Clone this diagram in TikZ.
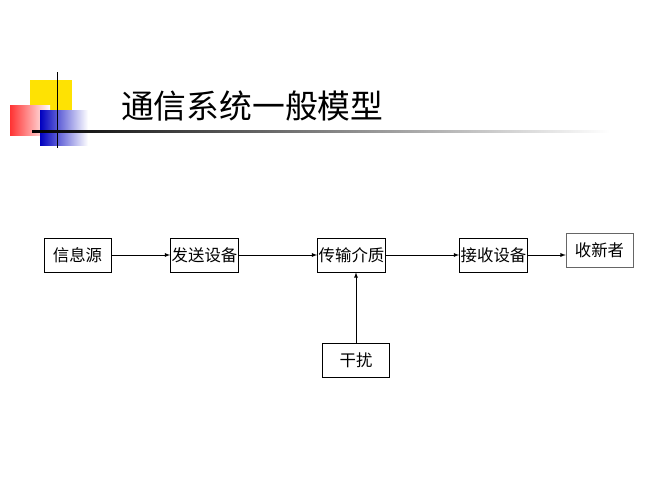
\documentclass[tikz,border=0pt]{standalone}
\usepackage{fontspec}
\newfontfamily\cjk{Noto Sans CJK SC}
\usetikzlibrary{positioning,calc}
\tikzset{
	block/.style={rectangle, draw, semithick, minimum width=2.01cm, minimum height=1.02cm, inner sep=1pt, font=\cjk\fontsize{14}{14}\selectfont},
	arrow/.style={-latex, semithick}
}
\begin{document}
\begin{tikzpicture}[x=0.03cm,y=-0.03cm]
			\useasboundingbox (0,0) rectangle (667,500);
			% title decoration
			\fill[yellow!85!orange] (30,80) rectangle (72,120);
			\shade[left color=red!80, right color=white] (10,105) rectangle (50,135);
			\shade[left color=blue!75!black, right color=white] (40,110) rectangle (88,145);
			\draw[thick] (57,72) -- (57,148);
			\shade[left color=black, right color=white] (32,130) rectangle (610,132);
			\node[anchor=west, font=\cjk\fontsize{28}{28}\selectfont] (title) at (117,106) {通信系统一般模型};
			
			% blocks
			\node[block] (source) at (77.5,255) {信息源};
			\node[block] (sender) at (204.5,255) {发送设备};
			\node[block] (medium) at (351.5,255) {传输介质};
			\node[block] (receiver) at (493.5,255) {接收设备};
			\node[block, draw=black!60, thin] (sink) at (599.5,250) {收新者};
			\node[block] (noise) at (356,360.5) {干扰};
			
			% arrows
			\draw[arrow] (source) -- (sender);
			\draw[arrow] (sender) -- (medium);
			\draw[arrow] (medium) -- (receiver);
			\draw[arrow] (receiver.east) -- (receiver.east -| sink.west);
			\draw[arrow] (noise) -- (noise |- medium.south);
		\end{tikzpicture}
\end{document}
